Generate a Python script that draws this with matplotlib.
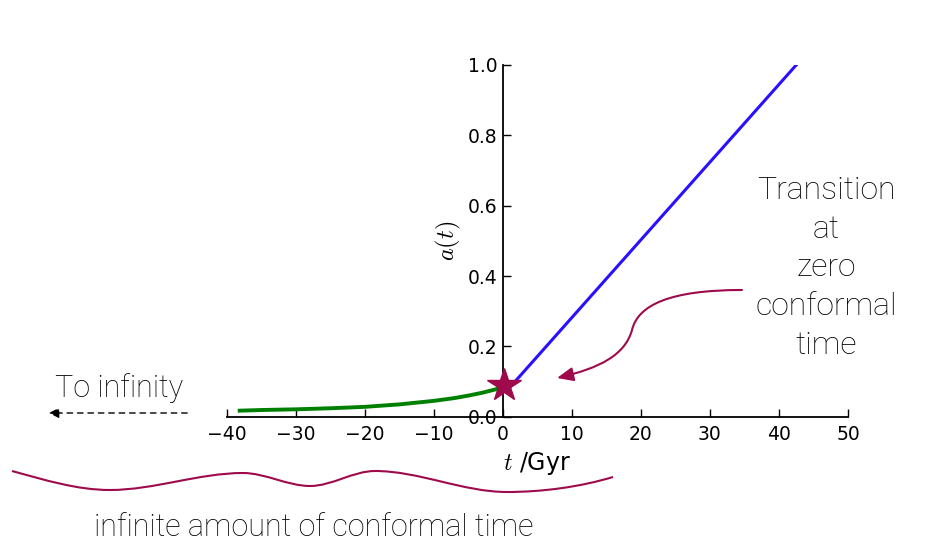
import matplotlib
matplotlib.use("Agg")
import matplotlib.pyplot as plt
from matplotlib.path import Path
from matplotlib.patches import PathPatch, FancyArrowPatch
from matplotlib.transforms import Affine2D, IdentityTransform

plt.rcParams['mathtext.fontset'] = 'cm'

# data
green_t = [-38.4, -35, -30, -25, -20, -15, -10, -7, -5, -3, -1, 0]
green_a = [0.017, 0.019, 0.021, 0.024, 0.028, 0.035, 0.045, 0.053, 0.060,
           0.068, 0.078, 0.085]
blue_t = [1.0, 42.5]
blue_a = [0.083, 1.0]
star_t = [0.2]
star_a = [0.090]
xticks = [-40, -30, -20, -10, 0, 10, 20, 30, 40, 50]
yticks = [0.0, 0.2, 0.4, 0.6, 0.8, 1.0]

W, H = 949, 553
fig = plt.figure(figsize=(W / 100, H / 100), dpi=100)
x0, x1, y0, y1 = 226.7, 848.0, 416.7, 65.0
ax = fig.add_axes([x0 / W, 1 - y0 / H, (x1 - x0) / W, (y0 - y1) / H])

ax.plot(green_t, green_a, color='#008000', lw=2.8, solid_capstyle='butt',
        solid_joinstyle='round')
ax.plot(blue_t, blue_a, color='#2a10ff', lw=2.2)
ax.plot(star_t, star_a, marker='*', ms=25, color='#9e0a4c', ls='none', zorder=5)

ax.set_xlim(-40, 50)
ax.set_ylim(0, 1.0)
ax.set_xticks(xticks)
ax.set_yticks(yticks)
ax.spines['left'].set_position(('data', 0))
ax.spines['top'].set_visible(False)
ax.spines['right'].set_visible(False)
for s in ax.spines.values():
    s.set_linewidth(1.3)
ax.tick_params(direction='in', length=6, width=1, labelsize=13.5, pad=6)
ax.tick_params(axis='y', pad=4)
ax.xaxis.set_ticks_position('bottom')
ax.yaxis.set_ticks_position('left')
ax.set_xlabel('$t$ /Gyr', fontsize=17, labelpad=4)
ax.set_ylabel('$a(t)$', fontsize=17.5, labelpad=3)

# pixel -> figure transform
pxT = Affine2D().scale(1 / W, -1 / H).translate(0, 1) + fig.transFigure

col = '#9e0a4c'
light = dict(family=['Roboto', 'DejaVu Sans'], fontweight='light',
             color='black')

fig.text(826 / W, 1 - 268 / H, 'Transition\nat\nzero\nconformal\ntime',
         ha='center', va='center', fontsize=23, linespacing=1.43, **light)
fig.text(119 / W, 1 - 388 / H, 'To infinity', ha='center', va='center',
         fontsize=22, **light)
fig.text(314 / W, 1 - 527 / H, 'infinite amount of conformal time',
         ha='center', va='center', fontsize=22, **light)

# wavy brace
verts = [(12, 471),
         (45, 480), (77, 490), (110, 490),
         (154, 490), (199, 473), (243, 473),
         (265, 473), (288, 486), (310, 486),
         (332, 486), (353, 471), (375, 471),
         (419, 471), (463, 492), (507, 492),
         (542, 492), (580, 487), (613, 477)]
codes = [Path.MOVETO] + [Path.CURVE4] * (len(verts) - 1)
fig.add_artist(PathPatch(Path(verts, codes), transform=pxT, fill=False,
                         edgecolor=col, lw=1.5))

# curved arrow to the transition
averts = [(742, 290), (670, 290), (638, 305), (632, 330),
          (625, 355), (600, 368), (557, 378)]
acodes = [Path.MOVETO] + [Path.CURVE4] * 6
apath = pxT.transform_path(Path(averts, acodes))
arr = FancyArrowPatch(path=Path(apath.vertices, apath.codes),
                      arrowstyle='-|>,head_length=0.7,head_width=0.3',
                      mutation_scale=14, color=col, lw=1.5)
arr.set_transform(IdentityTransform())
fig.add_artist(arr)

# dashed arrow to infinity
darr = FancyArrowPatch((190 / W, 1 - 413 / H), (46 / W, 1 - 413 / H),
                       transform=fig.transFigure,
                       arrowstyle='-|>,head_length=0.5,head_width=0.25',
                       mutation_scale=12, color='black', lw=1.0,
                       linestyle=(0, (4, 3.5)))
fig.add_artist(darr)

fig.savefig('out.png', dpi=100)
